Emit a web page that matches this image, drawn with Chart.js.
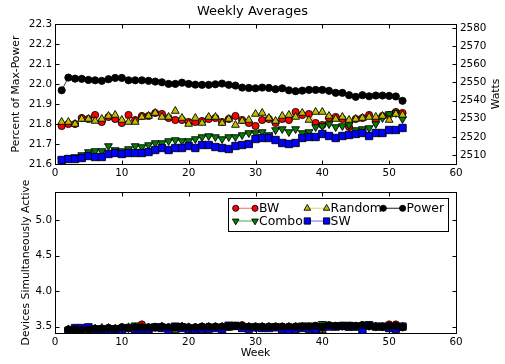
<!DOCTYPE html>
<html>
<head>
<meta charset="utf-8">
<script src="https://cdn.jsdelivr.net/npm/chart.js@4.4.0/dist/chart.umd.min.js"></script>
<style>
  body { margin: 0; background: #fff; }
  #wrap { position: relative; width: 505px; height: 364px; }
  canvas { position: absolute; left: 0; }
  #topChart { top: 0; }
  #bottomChart { top: 180px; }
</style>
</head>
<body>
<div id="wrap">
  <canvas id="topChart" width="505" height="190"></canvas>
  <canvas id="bottomChart" width="505" height="184"></canvas>
</div>
<script>
// weeks for the top panel (1..52) and the bottom panel (2..52)
const weeksTop = [1,2,3,4,5,6,7,8,9,10,11,12,13,14,15,16,17,18,19,20,21,22,23,24,25,26,
  27,28,29,30,31,32,33,34,35,36,37,38,39,40,41,42,43,44,45,46,47,48,49,50,51,52];
const weeksBottom = weeksTop.slice(1);

// top panel: percent of max-power
const bwPct = [21.79,21.80,21.80,21.83,21.825,21.845,21.81,21.835,21.825,21.805,
  21.845,21.82,21.84,21.84,21.855,21.85,21.83,21.82,21.82,21.81,
  21.81,21.815,21.825,21.83,21.81,21.825,21.84,21.82,21.805,21.79,
  21.82,21.825,21.805,21.825,21.82,21.86,21.845,21.85,21.805,21.795,
  21.83,21.835,21.825,21.785,21.825,21.83,21.845,21.82,21.84,21.845,
  21.86,21.855];
const randomPct = [21.81,21.81,21.80,21.825,21.825,21.815,21.825,21.84,21.845,21.82,
  21.81,21.81,21.835,21.84,21.855,21.835,21.835,21.865,21.83,21.80,
  21.83,21.805,21.835,21.835,21.805,21.825,21.795,21.815,21.82,21.85,
  21.855,21.83,21.815,21.84,21.845,21.835,21.855,21.82,21.86,21.86,
  21.84,21.825,21.835,21.82,21.825,21.83,21.835,21.835,21.84,21.82,
  21.85,21.845];
const comboPct = [21.62,21.63,21.635,21.645,21.66,21.665,21.665,21.69,21.67,21.665,
  21.675,21.69,21.685,21.695,21.705,21.705,21.715,21.72,21.715,21.715,
  21.725,21.735,21.74,21.735,21.725,21.735,21.735,21.745,21.755,21.755,
  21.76,21.745,21.77,21.775,21.76,21.775,21.755,21.76,21.785,21.79,
  21.80,21.785,21.79,21.795,21.77,21.775,21.78,21.80,21.83,21.85,
  21.855,21.825];
const swPct = [21.62,21.625,21.625,21.63,21.64,21.635,21.635,21.65,21.655,21.65,
  21.655,21.655,21.655,21.66,21.67,21.68,21.67,21.68,21.68,21.69,
  21.68,21.695,21.695,21.685,21.68,21.675,21.69,21.695,21.70,21.725,
  21.73,21.73,21.72,21.705,21.70,21.705,21.73,21.735,21.735,21.75,
  21.74,21.73,21.74,21.745,21.75,21.755,21.74,21.755,21.755,21.77,
  21.77,21.78];
// power in watts, right axis
const powerWatts = [2545.7,2552.7,2552.1,2552.0,2551.4,2551.2,2550.9,2551.8,2552.5,2552.5,
  2551.2,2551.2,2551.2,2550.9,2550.5,2550.1,2549.2,2549.2,2549.9,2549.2,
  2548.8,2548.7,2548.7,2549.0,2549.4,2548.7,2548.3,2547.2,2547.0,2546.8,
  2547.2,2547.0,2546.3,2546.8,2545.7,2545.2,2545.5,2545.9,2545.9,2545.9,
  2545.4,2544.3,2544.3,2543.0,2542.1,2543.0,2542.4,2542.8,2542.8,2542.6,
  2542.3,2539.9];

// bottom panel: devices simultaneously active
const bwDev = [3.45,3.46,3.44,3.46,3.47,3.47,3.48,3.47,3.49,3.48,
  3.49,3.53,3.49,3.49,3.50,3.49,3.49,3.50,3.49,3.49,
  3.50,3.50,3.50,3.50,3.50,3.51,3.52,3.50,3.50,3.50,
  3.50,3.50,3.50,3.50,3.50,3.50,3.50,3.51,3.50,3.51,
  3.51,3.51,3.51,3.51,3.52,3.51,3.50,3.50,3.53,3.53,3.50];
const comboDev = [3.45,3.45,3.45,3.45,3.47,3.47,3.48,3.47,3.48,3.48,
  3.52,3.49,3.49,3.50,3.50,3.49,3.52,3.51,3.48,3.49,
  3.50,3.49,3.50,3.50,3.53,3.52,3.50,3.49,3.49,3.49,
  3.50,3.50,3.49,3.50,3.50,3.52,3.52,3.51,3.54,3.52,
  3.51,3.51,3.53,3.51,3.52,3.51,3.50,3.50,3.50,3.50,3.50];
const randomDev = [3.46,3.45,3.46,3.46,3.47,3.48,3.48,3.47,3.48,3.49,
  3.49,3.49,3.48,3.49,3.50,3.47,3.45,3.50,3.49,3.48,
  3.49,3.49,3.49,3.49,3.48,3.49,3.49,3.49,3.49,3.49,
  3.49,3.49,3.45,3.49,3.49,3.49,3.47,3.49,3.45,3.50,
  3.50,3.49,3.48,3.50,3.50,3.50,3.50,3.49,3.47,3.49,3.50];
const swDev = [3.44,3.48,3.48,3.49,3.46,3.46,3.46,3.46,3.45,3.48,
  3.46,3.46,3.46,3.49,3.48,3.45,3.49,3.48,3.46,3.46,
  3.47,3.47,3.48,3.46,3.51,3.51,3.48,3.47,3.49,3.48,
  3.48,3.49,3.46,3.45,3.47,3.48,3.47,3.46,3.49,3.50,
  3.50,3.51,3.50,3.50,3.45,3.52,3.50,3.50,3.48,3.47,3.50];
const powerDev = [3.46,3.46,3.45,3.46,3.47,3.47,3.48,3.47,3.49,3.48,
  3.49,3.49,3.49,3.49,3.50,3.49,3.49,3.50,3.49,3.49,
  3.50,3.50,3.50,3.50,3.50,3.51,3.51,3.50,3.50,3.50,
  3.50,3.50,3.50,3.50,3.50,3.50,3.50,3.51,3.50,3.52,
  3.51,3.51,3.51,3.51,3.52,3.51,3.50,3.50,3.51,3.51,3.49];

const FONT = '"DejaVu Sans", sans-serif';

// look of each series (matplotlib-ish)
const styles = {
  BW:     { pointStyle: 'circle',   pointRadius: 3.6, rotation: 0,   fill: '#ff0000', line: 'rgba(255,0,0,0.5)',   order: 5 },
  Combo:  { pointStyle: 'triangle', pointRadius: 4.5, rotation: 180, fill: '#008000', line: 'rgba(0,128,0,0.6)',   order: 4 },
  Random: { pointStyle: 'triangle', pointRadius: 4.5, rotation: 0,   fill: '#bfbf00', line: 'rgba(191,191,0,0.5)', order: 3 },
  SW:     { pointStyle: 'rect',     pointRadius: 5.2, rotation: 0,   fill: '#0000ff', line: 'rgba(0,0,255,0.5)',   order: 2 },
  Power:  { pointStyle: 'circle',   pointRadius: 3.6, rotation: 0,   fill: '#000000', line: 'rgba(0,0,0,0.75)',    order: 1 }
};
const legendOrder = [['BW', 'Random', 'Power'], ['Combo', 'SW']];

function makeSeries(name, xs, ys, axis) {
  const s = styles[name];
  return {
    label: name,
    data: xs.map((x, i) => ({ x: x, y: ys[i] })),
    yAxisID: axis,
    borderColor: s.line,
    borderWidth: 1,
    pointStyle: s.pointStyle,
    pointRadius: s.pointRadius,
    pointRotation: s.rotation,
    pointBackgroundColor: s.fill,
    pointBorderColor: '#000',
    pointBorderWidth: 0.9,
    tension: 0,
    order: s.order
  };
}

// black box + inward ticks on all four sides
const framePlugin = {
  id: 'frame',
  afterDatasetsDraw(chart) {
    const { ctx, chartArea: a, scales } = chart;
    const L = Math.round(a.left) + 0.5, R = Math.round(a.right) + 0.5;
    const T = Math.round(a.top) + 0.5, B = Math.round(a.bottom) + 0.5;
    ctx.save();
    ctx.strokeStyle = '#000';
    ctx.lineWidth = 1;
    ctx.strokeRect(L, T, R - L, B - T);
    ctx.beginPath();
    scales.x.ticks.forEach(t => {
      const px = Math.round(scales.x.getPixelForValue(t.value)) + 0.5;
      ctx.moveTo(px, B); ctx.lineTo(px, B - 4);
      ctx.moveTo(px, T); ctx.lineTo(px, T + 4);
    });
    const yl = scales.y;
    const yr = scales.y1 || scales.y;
    yl.ticks.forEach(t => {
      const py = Math.round(yl.getPixelForValue(t.value)) + 0.5;
      ctx.moveTo(L, py); ctx.lineTo(L + 4, py);
    });
    yr.ticks.forEach(t => {
      const py = Math.round(yr.getPixelForValue(t.value)) + 0.5;
      ctx.moveTo(R, py); ctx.lineTo(R - 4, py);
    });
    ctx.stroke();
    ctx.restore();
  }
};

// right-axis label, reading bottom to top like matplotlib
const wattsLabel = {
  id: 'wattsLabel',
  afterDraw(chart) {
    const { ctx, chartArea: a } = chart;
    ctx.save();
    ctx.translate(chart.scales.y1.right - 8.5, (a.top + a.bottom) / 2);
    ctx.rotate(-Math.PI / 2);
    ctx.font = '10.8px ' + FONT;
    ctx.fillStyle = '#000';
    ctx.textAlign = 'center';
    ctx.textBaseline = 'middle';
    ctx.fillText('Watts', 0, 0);
    ctx.restore();
  }
};

// legend with two markers per entry
const boxLegend = {
  id: 'boxLegend',
  afterDraw(chart) {
    const { ctx, chartArea: a } = chart;
    const w = 220, h = 33;
    const left = a.right - 8 - w, top = a.top + 6;
    const cols = [7.7, 79.3, 155.3];
    const rows = [10.3, 23];
    ctx.save();
    ctx.fillStyle = '#fff';
    ctx.fillRect(left, top, w, h);
    ctx.strokeStyle = '#000';
    ctx.lineWidth = 1;
    ctx.strokeRect(Math.round(left) + 0.5, Math.round(top) + 0.5, w, h);
    ctx.font = '12.4px ' + FONT;
    ctx.textBaseline = 'middle';
    legendOrder.forEach((row, r) => {
      row.forEach((name, c) => {
        const s = styles[name];
        const x0 = left + cols[c], x1 = x0 + 19.3, y = top + rows[r];
        ctx.strokeStyle = s.line;
        ctx.lineWidth = 1.2;
        ctx.beginPath(); ctx.moveTo(x0, y); ctx.lineTo(x1, y); ctx.stroke();
        ctx.fillStyle = s.fill;
        ctx.strokeStyle = '#000';
        ctx.lineWidth = 0.9;
        const opts = { pointStyle: s.pointStyle, radius: s.pointRadius * 0.85, rotation: s.rotation, borderWidth: 0.9 };
        Chart.helpers.drawPoint(ctx, opts, x0, y);
        Chart.helpers.drawPoint(ctx, opts, x1, y);
        ctx.fillStyle = '#000';
        ctx.fillText(name, x1 + 4, y + 0.5);
      });
    });
    ctx.restore();
  }
};

const tickFont = { family: FONT, size: 10.4 };
const labelFont = { family: FONT, size: 10.8 };

const xAxis = (h, withTitle) => ({
  type: 'linear', min: 0, max: 60,
  grid: { display: false, drawTicks: false },
  border: { display: false },
  ticks: { stepSize: 10, font: tickFont, color: '#000', padding: 3, maxRotation: 0 },
  title: withTitle ? { display: true, text: 'Week', font: labelFont, color: '#000', padding: { top: 0, bottom: 4.5 } } : { display: false },
  afterFit: s => { s.height = h; }
});

new Chart(document.getElementById('topChart'), {
  type: 'line',
  data: {
    datasets: [
      makeSeries('BW', weeksTop, bwPct, 'y'),
      makeSeries('Combo', weeksTop, comboPct, 'y'),
      makeSeries('Random', weeksTop, randomPct, 'y'),
      makeSeries('SW', weeksTop, swPct, 'y'),
      makeSeries('Power', weeksTop, powerWatts, 'y1')
    ]
  },
  options: {
    responsive: false,
    animation: false,
    layout: { padding: 0 },
    scales: {
      x: xAxis(26, false),
      y: {
        position: 'left', min: 21.6, max: 22.3,
        grid: { display: false, drawTicks: false },
        border: { display: false },
        ticks: { stepSize: 0.1, font: tickFont, color: '#000', padding: 3, callback: v => v.toFixed(1) },
        title: { display: true, text: 'Percent of Max-Power', font: labelFont, color: '#000', padding: { top: 10.2, bottom: 0 } },
        afterFit: s => { s.width = 55; }
      },
      y1: {
        position: 'right', min: 2505.1, max: 2582.2,
        grid: { display: false, drawTicks: false },
        border: { display: false },
        ticks: { stepSize: 10, includeBounds: false, font: tickFont, color: '#000', padding: 4, callback: v => String(v) },
        afterFit: s => { s.width = 49; }
      }
    },
    plugins: {
      legend: { display: false },
      tooltip: { enabled: false },
      title: {
        display: true, text: 'Weekly Averages', color: '#000',
        font: { family: FONT, size: 13, weight: 'normal' },
        padding: { top: 3.5, bottom: 4.9 }
      }
    }
  },
  plugins: [framePlugin, wattsLabel]
});

new Chart(document.getElementById('bottomChart'), {
  type: 'line',
  data: {
    datasets: [
      makeSeries('BW', weeksBottom, bwDev, 'y'),
      makeSeries('Combo', weeksBottom, comboDev, 'y'),
      makeSeries('Random', weeksBottom, randomDev, 'y'),
      makeSeries('SW', weeksBottom, swDev, 'y'),
      makeSeries('Power', weeksBottom, powerDev, 'y')
    ]
  },
  options: {
    responsive: false,
    animation: false,
    layout: { padding: { top: 12, right: 49, left: 0, bottom: 0 } },
    scales: {
      x: xAxis(31, true),
      y: {
        position: 'left', min: 3.41, max: 5.394,
        grid: { display: false, drawTicks: false },
        border: { display: false },
        ticks: { stepSize: 0.5, includeBounds: false, font: tickFont, color: '#000', padding: 3, callback: v => v.toFixed(1) },
        title: { display: true, text: 'Devices Simultaneously Active', font: labelFont, color: '#000', padding: { top: 20.2, bottom: 0 } },
        afterFit: s => { s.width = 55; }
      }
    },
    plugins: {
      legend: { display: false },
      tooltip: { enabled: false }
    }
  },
  plugins: [framePlugin, boxLegend]
});
</script>
</body>
</html>
